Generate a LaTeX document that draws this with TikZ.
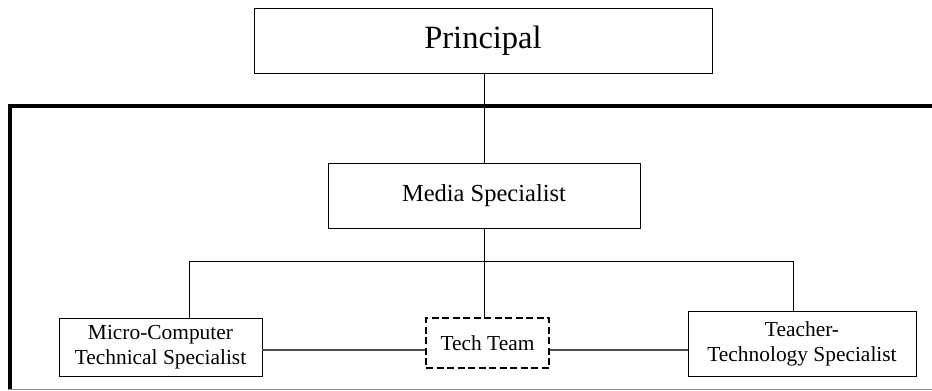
\documentclass[tikz,border=0pt]{standalone}
\usepackage{fontspec}
\setmainfont{Liberation Serif}
\begin{document}
\begin{tikzpicture}[x=1pt,y=-1pt,
  orgbox/.style={draw, line width=0.8pt, inner sep=0pt, align=center, fill=white},
  teambox/.style={draw, line width=1.7pt, dash pattern=on 7pt off 3.5pt, inner sep=0pt, align=center},
  link/.style={line width=0.8pt},
  peer/.style={line width=1.8pt, black!70},
  smalltext/.style={font=\fontsize{21.4}{25}\selectfont}]
\useasboundingbox (0,0) rectangle (932,391);
% frame
\draw[line width=3.5pt] (10,390) -- (10,106) -- (932,106);
\draw[line width=1.5pt, black!45] (8,389.5) -- (932,389.5);
% nodes
\node[orgbox, minimum width=458pt, minimum height=65pt, font=\fontsize{32.5}{36}\selectfont] (principal) at (483,40.5) {Principal};
\node[orgbox, minimum width=312pt, minimum height=65pt, font=\fontsize{24.5}{28}\selectfont] (media) at (484,195.5) {Media Specialist};
\node[orgbox, smalltext, minimum width=203pt, minimum height=58pt] (micro) at (160.5,347) {Micro-Computer\\Technical Specialist};
\node[teambox, smalltext, minimum width=123pt, minimum height=50pt] (tech) at (487.5,343) {Tech Team};
\node[orgbox, smalltext, minimum width=228pt, minimum height=65pt] (teacher) at (802,343.5) {Teacher-\\Technology Specialist};
% bus coordinates
\coordinate (busL) at (189,261);
\coordinate (busR) at (793,261);
% connectors
\draw[link] (principal.south -| media.north) -- (media.north);
\draw[link] (media.south) -- (media.south |- tech.north);
\draw[link] (busL |- micro.north) -- (busL) -- (busR) -- (busR |- teacher.north);
\coordinate (peerY) at ([yshift=-3pt]micro.east);
\draw[peer] (peerY) -- (peerY -| tech.west);
\draw[peer] (tech.east |- peerY) -- (teacher.west |- peerY);
\end{tikzpicture}
\end{document}
